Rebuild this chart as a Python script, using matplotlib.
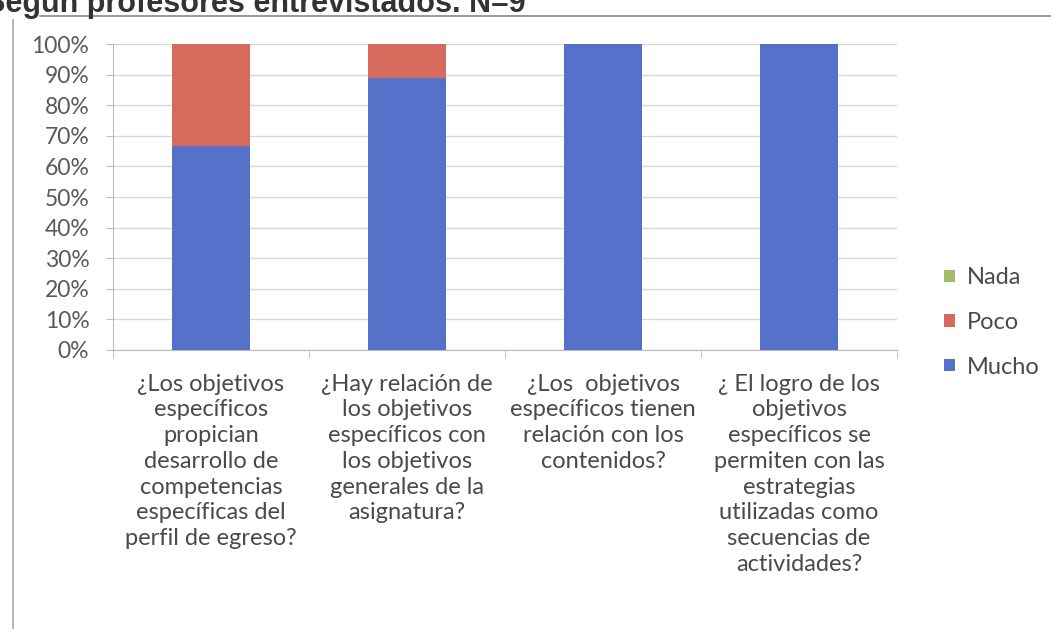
import numpy as np
import matplotlib.pyplot as plt

plt.rcParams["font.family"] = ["Lato", "DejaVu Sans"]

# datos (porcentaje de respuestas, N=9)
categorias = [
    "¿Los objetivos\nespecíficos\npropician\ndesarrollo de\ncompetencias\nespecíficas del\nperfil de egreso?",
    "¿Hay relación de\nlos objetivos\nespecíficos con\nlos objetivos\ngenerales de la\nasignatura?",
    "¿Los  objetivos\nespecíficos tienen\nrelación con los\ncontenidos?",
    "¿ El logro de los\nobjetivos\nespecíficos se\npermiten con las\nestrategias\nutilizadas como\nsecuencias de\nactividades?",
]
mucho = [66.7, 88.9, 100, 100]
poco = [33.3, 11.1, 0, 0]
nada = [0, 0, 0, 0]
yticks = [0, 10, 20, 30, 40, 50, 60, 70, 80, 90, 100]

c_mucho = "#5671C9"
c_poco = "#D66A5C"
c_nada = "#A3BC6A"

fig = plt.figure(figsize=(10.51, 6.29), dpi=100)
ax = fig.add_axes([0.1075, 0.4436, 0.746, 0.4864])

x = np.arange(len(categorias))
b1 = ax.bar(x, mucho, width=0.4, color=c_mucho, label="Mucho", zorder=3)
b2 = ax.bar(x, poco, width=0.4, bottom=mucho, color=c_poco, label="Poco", zorder=3)
base = np.array(mucho) + np.array(poco)
b3 = ax.bar(x, nada, width=0.4, bottom=base, color=c_nada, label="Nada", zorder=3)

ax.set_xlim(-0.5, len(categorias) - 0.5)
ax.set_ylim(0, 100)
ax.set_yticks(yticks)
ax.set_yticklabels([f"{v}%" for v in yticks], fontsize=16.5, color="#5a5a5a")
ax.set_xticks(x)
ax.set_xticklabels(categorias, fontsize=17, color="#4a4a4a", linespacing=1.28)
ax.tick_params(axis="x", length=0, pad=17)
ax.tick_params(axis="y", length=5, color="#bbbbbb", pad=12)
ax.set_xticks(np.arange(-0.5, len(categorias)), minor=True)
ax.tick_params(axis="x", which="minor", length=6, color="#bbbbbb")

ax.grid(axis="y", color="#d9d9d9", linewidth=1, zorder=0)
for s in ["top", "right"]:
    ax.spines[s].set_visible(False)
ax.spines["left"].set_color("#bbbbbb")
ax.spines["bottom"].set_color("#bbbbbb")

# leyenda en orden Nada, Poco, Mucho
ax.legend([b3, b2, b1], ["Nada", "Poco", "Mucho"], loc="center left",
          bbox_to_anchor=(1.033, 0.09), frameon=False, fontsize=17,
          handlelength=0.45, handleheight=0.45, handletextpad=0.5,
          labelspacing=1.0, labelcolor="#4a4a4a")

# título recortado del documento escaneado
fig.text(-0.014, 1 - 12 / 629, "Según profesores entrevistados. N=9", fontsize=22,
         fontweight="bold", family="Liberation Sans", va="baseline", ha="left",
         color="#333333")
fig.add_artist(plt.Line2D([0.038, 1.0], [1 - 16 / 629, 1 - 16 / 629], color="#888888", lw=1.2))
fig.add_artist(plt.Line2D([0.012, 0.012], [0.0, 1 - 20 / 629], color="#aaaaaa", lw=1.2))

fig.savefig("out.png", dpi=100)
